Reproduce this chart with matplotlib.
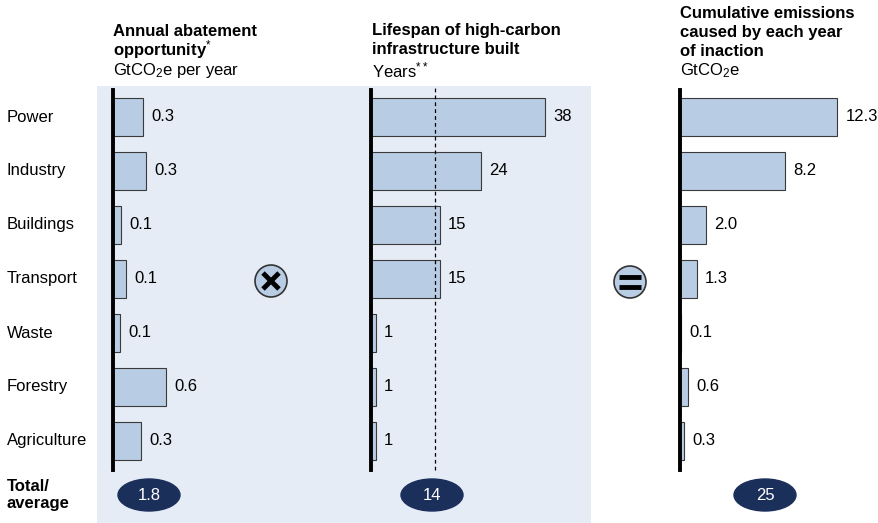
import matplotlib
matplotlib.use('Agg')
import matplotlib.pyplot as plt
from matplotlib.patches import Ellipse, Circle, Rectangle

plt.rcParams['font.family'] = ['Liberation Sans', 'DejaVu Sans']
plt.rcParams['mathtext.fontset'] = 'custom'
plt.rcParams['mathtext.rm'] = 'Liberation Sans'
plt.rcParams['mathtext.it'] = 'Liberation Sans:italic'
plt.rcParams['mathtext.bf'] = 'Liberation Sans:bold'

# data
sectors = ['Power', 'Industry', 'Buildings', 'Transport', 'Waste', 'Forestry', 'Agriculture']
abatement = [0.34, 0.37, 0.09, 0.15, 0.08, 0.6, 0.32]
abatement_lbl = ['0.3', '0.3', '0.1', '0.1', '0.1', '0.6', '0.3']
lifespan = [38, 24, 15, 15, 1, 1, 1]
lifespan_lbl = ['38', '24', '15', '15', '1', '1', '1']
cumulative = [12.3, 8.2, 2.0, 1.3, 0.1, 0.6, 0.3]
cumulative_lbl = ['12.3', '8.2', '2.0', '1.3', '0.1', '0.6', '0.3']
totals = ['1.8', '14', '25']
avg_lifespan = 14

W, H = 879, 523
BAR = '#b8cce4'
NAVY = '#1b2f5b'
SHADE = '#e5ecf5'
FS = 12

fig = plt.figure(figsize=(W / 100, H / 100), dpi=100)

# overlay axes in pixel coordinates for decoration
ov = fig.add_axes([0, 0, 1, 1], zorder=0)
ov.set_xlim(0, W)
ov.set_ylim(H, 0)
ov.axis('off')
ov.add_patch(Rectangle((97, 86), 494, 437, color=SHADE, lw=0))


def panel(left_px, width_px, px_per_unit, values, labels):
    ax = fig.add_axes([left_px / W, 1 - 470 / H, width_px / W, 380 / H], zorder=1)
    ax.set_facecolor('none')
    ax.set_xlim(0, width_px / px_per_unit)
    ax.set_ylim(6.54, -0.5)
    ax.barh(range(len(values)), values, height=0.7, color=BAR,
            edgecolor='#3a3a3a', linewidth=0.8)
    for i, (v, lb) in enumerate(zip(values, labels)):
        ax.annotate(lb, (v, i), xytext=(6, 0), textcoords='offset points',
                    va='center', ha='left', fontsize=FS)
    for s in ['top', 'right', 'bottom']:
        ax.spines[s].set_visible(False)
    ax.spines['left'].set_linewidth(2.8)
    ax.set_xticks([])
    ax.set_yticks([])
    return ax


ax1 = panel(113, 200, 88, abatement, abatement_lbl)
ax2 = panel(371, 200, 4.58, lifespan, lifespan_lbl)
ax3 = panel(680, 190, 12.8, cumulative, cumulative_lbl)
ax2.axvline(avg_lifespan, ymin=0, ymax=1.01, color='black', lw=0.9,
            ls=(0, (3, 2.5)), clip_on=False)

# sector labels
for i, s in enumerate(sectors):
    ov.text(7, 117 + 54 * i, s, fontsize=FS, va='center', ha='left')

ov.text(7, 495, 'Total/\naverage', fontsize=FS, fontweight='bold',
        va='center', ha='left', linespacing=1.15)

# headers
ov.text(113, 31, 'Annual abatement', fontsize=FS, fontweight='bold', va='center')
ov.text(113, 50, 'opportunity$^{*}$', fontsize=FS, fontweight='bold', va='center')
ov.text(113, 70, 'GtCO$_2$e per year', fontsize=FS, va='center')

ov.text(372, 31, 'Lifespan of high-carbon', fontsize=FS, fontweight='bold', va='center')
ov.text(372, 50, 'infrastructure built', fontsize=FS, fontweight='bold', va='center')
ov.text(372, 70, 'Years$^{**}$', fontsize=FS, va='center')

ov.text(680, 13, 'Cumulative emissions', fontsize=FS, fontweight='bold', va='center')
ov.text(680, 32, 'caused by each year', fontsize=FS, fontweight='bold', va='center')
ov.text(680, 51, 'of inaction', fontsize=FS, fontweight='bold', va='center')
ov.text(680, 71, 'GtCO$_2$e', fontsize=FS, va='center')

# total ellipses
for cx, t in zip([149, 432, 765], totals):
    ov.add_patch(Ellipse((cx, 495), 62, 32, color=NAVY))
    ov.text(cx, 496, t, color='white', fontsize=FS, ha='center', va='center')

# operator symbols
ov.add_patch(Circle((271, 281), 16, facecolor=BAR, edgecolor='#333333', lw=1.2))
ov.plot([263, 279], [273, 289], color='black', lw=3.5, solid_capstyle='butt')
ov.plot([263, 279], [289, 273], color='black', lw=3.5, solid_capstyle='butt')

ov.add_patch(Circle((630, 282), 16, facecolor=BAR, edgecolor='#333333', lw=1.2))
ov.plot([619, 641], [277, 277], color='black', lw=3.5, solid_capstyle='butt')
ov.plot([619, 641], [287, 287], color='black', lw=3.5, solid_capstyle='butt')

fig.savefig('out.png', dpi=100)
